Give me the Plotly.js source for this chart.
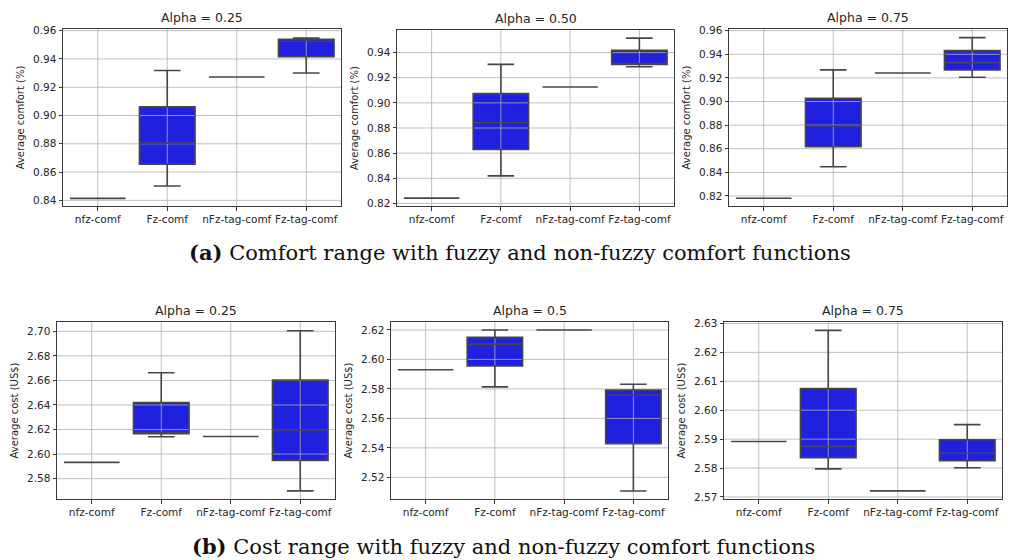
<!DOCTYPE html>
<html>
<head>
<meta charset="utf-8">
<script src="https://cdn.plot.ly/plotly-3.0.1.min.js"></script>
<style>
  html, body { margin: 0; padding: 0; background: #fff; }
  #chart { width: 1011px; height: 560px; }
</style>
</head>
<body>
<div id="chart"></div>
<script>
// Box-plot summaries (lower whisker, Q1, median, Q3, upper whisker) per comfort function
const categories = ['nfz-comf', 'Fz-comf', 'nFz-tag-comf', 'Fz-tag-comf'];
const alphaLabels = ['Alpha = 0.25', 'Alpha = 0.50', 'Alpha = 0.75', 'Alpha = 0.25', 'Alpha = 0.5', 'Alpha = 0.75'];

// Average comfort, alpha = 0.25
const comfort25Low = [0.8414, 0.8501, 0.9273, 0.9301];
const comfort25Q1  = [0.8414, 0.8656, 0.9273, 0.9416];
const comfort25Med = [0.8414, 0.8805, 0.9273, 0.9525];
const comfort25Q3  = [0.8414, 0.9061, 0.9273, 0.9540];
const comfort25Up  = [0.8414, 0.9318, 0.9273, 0.9548];

// Average comfort, alpha = 0.50
const comfort50Low = [0.8242, 0.8419, 0.9126, 0.9288];
const comfort50Q1  = [0.8242, 0.8629, 0.9126, 0.9305];
const comfort50Med = [0.8242, 0.8842, 0.9126, 0.9310];
const comfort50Q3  = [0.8242, 0.9074, 0.9126, 0.9419];
const comfort50Up  = [0.8242, 0.9306, 0.9126, 0.9515];

// Average comfort, alpha = 0.75
const comfort75Low = [0.8180, 0.8448, 0.9242, 0.9206];
const comfort75Q1  = [0.8180, 0.8617, 0.9242, 0.9267];
const comfort75Med = [0.8180, 0.8792, 0.9242, 0.9329];
const comfort75Q3  = [0.8180, 0.9028, 0.9242, 0.9431];
const comfort75Up  = [0.8180, 0.9268, 0.9242, 0.9541];

// Average cost, alpha = 0.25
const cost25Low = [2.5932, 2.6141, 2.6143, 2.5700];
const cost25Q1  = [2.5932, 2.6165, 2.6143, 2.5948];
const cost25Med = [2.5932, 2.6177, 2.6143, 2.6197];
const cost25Q3  = [2.5932, 2.6420, 2.6143, 2.6603];
const cost25Up  = [2.5932, 2.6662, 2.6143, 2.7005];

// Average cost, alpha = 0.5
const cost50Low = [2.5930, 2.5814, 2.6200, 2.5107];
const cost50Q1  = [2.5930, 2.5955, 2.6200, 2.5429];
const cost50Med = [2.5930, 2.6104, 2.6200, 2.5757];
const cost50Q3  = [2.5930, 2.6150, 2.6200, 2.5793];
const cost50Up  = [2.5930, 2.6200, 2.6200, 2.5832];

// Average cost, alpha = 0.75
const cost75Low = [2.5892, 2.5797, 2.5721, 2.5801];
const cost75Q1  = [2.5892, 2.5836, 2.5721, 2.5825];
const cost75Med = [2.5892, 2.5875, 2.5721, 2.5851];
const cost75Q3  = [2.5892, 2.6075, 2.5721, 2.5898];
const cost75Up  = [2.5892, 2.6276, 2.5721, 2.5950];

// Y tick values per panel
const ticksComfort25 = [0.84, 0.86, 0.88, 0.90, 0.92, 0.94, 0.96];
const ticksComfort50 = [0.82, 0.84, 0.86, 0.88, 0.90, 0.92, 0.94];
const ticksComfort75 = [0.82, 0.84, 0.86, 0.88, 0.90, 0.92, 0.94, 0.96];
const ticksCost25 = [2.58, 2.60, 2.62, 2.64, 2.66, 2.68, 2.70];
const ticksCost50 = [2.52, 2.54, 2.56, 2.58, 2.60, 2.62];
const ticksCost75 = [2.57, 2.58, 2.59, 2.60, 2.61, 2.62, 2.63];

const comfortTitle = 'Average comfort (%)';
const costTitle = 'Average cost (US$)';
const captionA = '<b>(a)</b> Comfort range with fuzzy and non-fuzzy comfort functions';
const captionB = '<b>(b)</b> Cost range with fuzzy and non-fuzzy comfort functions';

const W = 1011, H = 560;
const px = v => v / W;
const py = v => 1 - v / H;

const panels = [
  { stats: [comfort25Low, comfort25Q1, comfort25Med, comfort25Q3, comfort25Up], ticks: ticksComfort25,
    ytitle: comfortTitle, box: [63, 29, 341, 206], range: [0.8360, 0.9612] },
  { stats: [comfort50Low, comfort50Q1, comfort50Med, comfort50Q3, comfort50Up], ticks: ticksComfort50,
    ytitle: comfortTitle, box: [397, 30, 674, 206], range: [0.8179, 0.9580] },
  { stats: [comfort75Low, comfort75Q1, comfort75Med, comfort75Q3, comfort75Up], ticks: ticksComfort75,
    ytitle: comfortTitle, box: [729, 29, 1007, 206], range: [0.8115, 0.9614] },
  { stats: [cost25Low, cost25Q1, cost25Med, cost25Q3, cost25Up], ticks: ticksCost25,
    ytitle: costTitle, box: [57, 322, 335, 499], range: [2.5634, 2.7076] },
  { stats: [cost50Low, cost50Q1, cost50Med, cost50Q3, cost50Up], ticks: ticksCost50,
    ytitle: costTitle, box: [391, 322, 668, 499], range: [2.5053, 2.6254] },
  { stats: [cost75Low, cost75Q1, cost75Med, cost75Q3, cost75Up], ticks: ticksCost75,
    ytitle: costTitle, box: [724, 322, 1002, 499], range: [2.5693, 2.6305] }
];

const textColor = '#262626';
const frameColor = '#3a3a3a';
const boxFill = '#2020df';
const boxLine = '#474747';
const gridColor = 'rgba(176,176,176,0.8)';
const sans = 'DejaVu Sans, sans-serif';
const tickSize = 10.5;
const catIndex = categories.map((c, i) => i);
const xRange = [-0.5, categories.length - 0.5];

const traces = [];
const layout = {
  width: W, height: H,
  margin: { l: 0, r: 0, t: 0, b: 0 },
  paper_bgcolor: '#ffffff',
  plot_bgcolor: '#ffffff',
  showlegend: false,
  boxgap: 0.2,
  boxgroupgap: 0,
  font: { family: sans, size: tickSize, color: textColor },
  annotations: []
};

const nPanels = panels.length;

panels.forEach((p, i) => {
  const n = i + 1;
  const sfx = n === 1 ? '' : String(n);
  const ov = String(n + nPanels);          // overlay subplot carrying outlines
  const [low, q1, med, q3, up] = p.stats;
  const boxStats = { lowerfence: low, q1: q1, median: med, q3: q3, upperfence: up };

  // 1) filled boxes, no outline
  traces.push(Object.assign({
    type: 'box', x: catIndex,
    xaxis: 'x' + sfx, yaxis: 'y' + sfx,
    fillcolor: boxFill,
    line: { color: boxFill, width: 0 },
    whiskerwidth: 0.48, boxpoints: false, hoverinfo: 'skip'
  }, boxStats));

  // 2) grid lines, drawn over the box fill
  const gx = [], gy = [];
  p.ticks.forEach(t => { gx.push(xRange[0], xRange[1], null); gy.push(t, t, null); });
  catIndex.forEach(c => { gx.push(c, c, null); gy.push(p.range[0], p.range[1], null); });
  traces.push({
    type: 'scatter', mode: 'lines', x: gx, y: gy,
    xaxis: 'x' + sfx, yaxis: 'y' + sfx,
    line: { color: gridColor, width: 1 },
    hoverinfo: 'skip', cliponaxis: true
  });

  // 3) outlines, whiskers and medians on top of the grid
  traces.push(Object.assign({
    type: 'box', x: catIndex,
    xaxis: 'x' + ov, yaxis: 'y' + ov,
    fillcolor: 'rgba(0,0,0,0)',
    line: { color: boxLine, width: 1.6 },
    whiskerwidth: 0.48, boxpoints: false, hoverinfo: 'skip'
  }, boxStats));

  const [x0, y0, x1, y1] = p.box;
  layout['xaxis' + sfx] = {
    domain: [px(x0), px(x1)],
    anchor: 'y' + sfx,
    range: xRange,
    tickvals: catIndex, ticktext: categories,
    showgrid: false, zeroline: false,
    showline: true, mirror: true, linecolor: frameColor, linewidth: 1,
    ticks: 'outside', ticklen: 3.5, tickwidth: 1, tickcolor: frameColor,
    tickfont: { family: sans, size: tickSize, color: textColor }
  };
  layout['yaxis' + sfx] = {
    domain: [py(y1), py(y0)],
    anchor: 'x' + sfx,
    range: p.range,
    tickvals: p.ticks,
    tickformat: '.2f',
    showgrid: false, zeroline: false,
    showline: true, mirror: true, linecolor: frameColor, linewidth: 1,
    ticks: 'outside', ticklen: 3.5, tickwidth: 1, tickcolor: frameColor,
    tickfont: { family: sans, size: tickSize, color: textColor },
    title: { text: p.ytitle, font: { family: sans, size: 10, color: textColor }, standoff: 6 }
  };
  layout['xaxis' + ov] = {
    overlaying: 'x' + sfx, anchor: 'y' + ov,
    range: xRange, visible: false, showgrid: false, zeroline: false
  };
  layout['yaxis' + ov] = {
    overlaying: 'y' + sfx, anchor: 'x' + ov,
    range: p.range, visible: false, showgrid: false, zeroline: false
  };

  // panel title
  layout.annotations.push({
    text: alphaLabels[i],
    xref: 'paper', yref: 'paper',
    x: px((x0 + x1) / 2), y: py(y0 - 2),
    xanchor: 'center', yanchor: 'bottom',
    showarrow: false,
    font: { family: sans, size: 12.5, color: textColor }
  });
});

// figure captions
layout.annotations.push({
  text: captionA, xref: 'paper', yref: 'paper',
  x: px(520), y: py(253), xanchor: 'center', yanchor: 'middle', showarrow: false,
  font: { family: 'DejaVu Serif, serif', size: 21, color: '#111' }
});
layout.annotations.push({
  text: captionB, xref: 'paper', yref: 'paper',
  x: px(503), y: py(546), xanchor: 'center', yanchor: 'middle', showarrow: false,
  font: { family: 'DejaVu Serif, serif', size: 21, color: '#111' }
});

Plotly.newPlot('chart', traces, layout, { staticPlot: true, displayModeBar: false });
</script>
</body>
</html>
